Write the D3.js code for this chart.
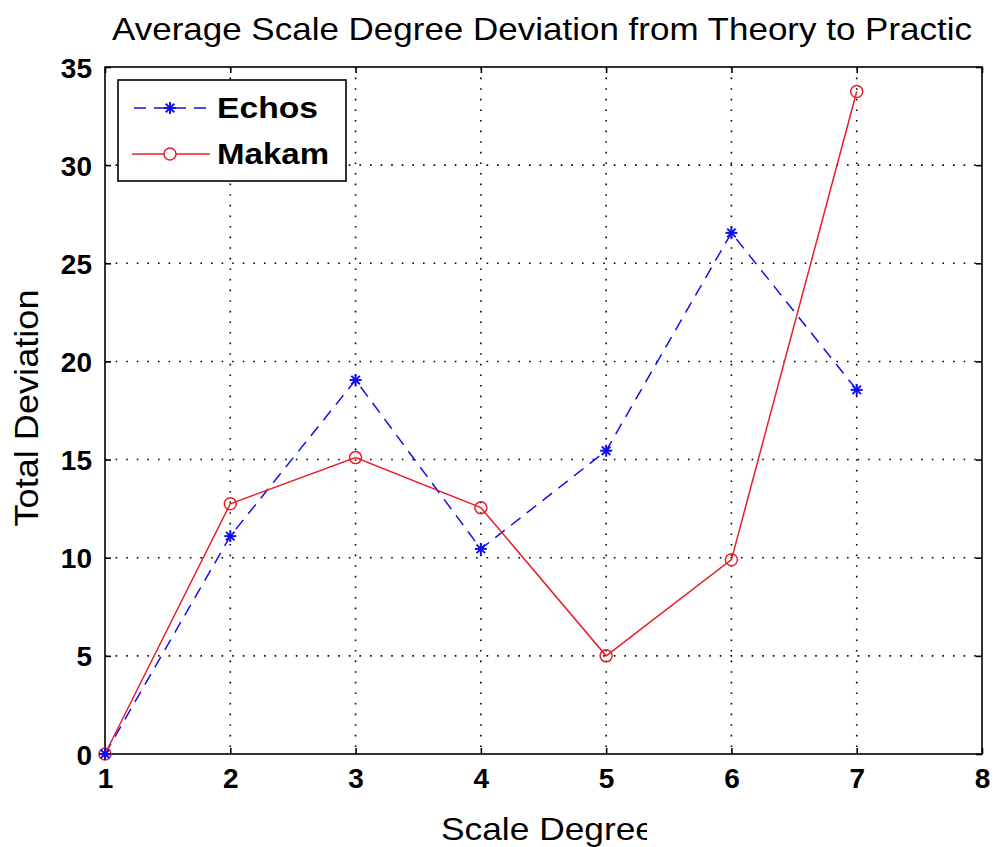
<!DOCTYPE html>
<html>
<head>
<meta charset="utf-8">
<script src="https://cdn.jsdelivr.net/npm/d3@7"></script>
<style>
  html, body { margin: 0; padding: 0; background: #fff; }
  svg { display: block; }
</style>
</head>
<body>
<svg id="chart" width="994" height="847"></svg>
<script>
// Scale degrees and per-series total deviation
const degrees = [1, 2, 3, 4, 5, 6, 7];
const echos = [0, 11.1, 19.05, 10.45, 15.45, 26.55, 18.55];
const makam = [0, 12.75, 15.1, 12.55, 5.0, 9.9, 33.75];
const xTicks = [1, 2, 3, 4, 5, 6, 7, 8];
const yTicks = [0, 5, 10, 15, 20, 25, 30, 35];
const seriesNames = ["Echos", "Makam"];

(function () {
  const svg = d3.select("#chart");
  const pLeft = 105, pRight = 982, pTop = 67, pBottom = 754;

  const x = d3.scaleLinear().domain([1, 8]).range([pLeft, pRight]);
  const y = d3.scaleLinear().domain([0, 35]).range([pBottom, pTop]);

  const font = "'Liberation Sans', Arial, Helvetica, sans-serif";

  // Dotted grid
  const grid = svg.append("g");
  grid.selectAll("line.gx").data(xTicks.slice(1, -1)).join("line")
    .attr("class", "gx")
    .attr("x1", d => x(d)).attr("x2", d => x(d))
    .attr("y1", pTop).attr("y2", pBottom)
    .attr("stroke", "#000").attr("stroke-width", 1.6)
    .attr("stroke-dasharray", "1.6,9");
  grid.selectAll("line.gy").data(yTicks.slice(1, -1)).join("line")
    .attr("class", "gy")
    .attr("y1", d => y(d)).attr("y2", d => y(d))
    .attr("x1", pLeft).attr("x2", pRight)
    .attr("stroke", "#000").attr("stroke-width", 1.6)
    .attr("stroke-dasharray", "1.6,9");

  // Axes with inward ticks on all four sides
  const tickLen = 6;
  const axB = svg.append("g").attr("transform", `translate(0,${pBottom})`)
    .call(d3.axisBottom(x).tickValues(xTicks).tickSize(-tickLen).tickPadding(14).tickFormat(d3.format("d")));
  const axT = svg.append("g").attr("transform", `translate(0,${pTop})`)
    .call(d3.axisTop(x).tickValues(xTicks).tickSize(-tickLen).tickFormat(""));
  const axL = svg.append("g").attr("transform", `translate(${pLeft},0)`)
    .call(d3.axisLeft(y).tickValues(yTicks).tickSize(-tickLen).tickPadding(13).tickFormat(d3.format("d")));
  const axR = svg.append("g").attr("transform", `translate(${pRight},0)`)
    .call(d3.axisRight(y).tickValues(yTicks).tickSize(-tickLen).tickFormat(""));
  [axB, axT, axL, axR].forEach(a => {
    a.select(".domain").remove();
    a.selectAll(".tick line").attr("stroke", "#000").attr("stroke-width", 1.6);
    a.selectAll(".tick text").attr("fill", "#000")
      .style("font-family", font).style("font-size", "28px").style("font-weight", "bold");
  });
  axB.selectAll(".tick text").attr("dy", "0.72em");
  axL.selectAll(".tick text").attr("dy", "0.36em");

  // Frame
  svg.append("rect").attr("x", pLeft).attr("y", pTop)
    .attr("width", pRight - pLeft).attr("height", pBottom - pTop)
    .attr("fill", "none").attr("stroke", "#000").attr("stroke-width", 1.6);

  const line = d3.line().x((d, i) => x(degrees[i])).y(d => y(d));

  const blue = "#1010ee", red = "#e8202a";

  function star(g, cx, cy, r, color) {
    const s = g.append("g").attr("transform", `translate(${cx},${cy})`);
    [0, 45, 90, 135].forEach(a => {
      const rad = a * Math.PI / 180;
      s.append("line")
        .attr("x1", -r * Math.cos(rad)).attr("y1", -r * Math.sin(rad))
        .attr("x2", r * Math.cos(rad)).attr("y2", r * Math.sin(rad))
        .attr("stroke", color).attr("stroke-width", 2);
    });
  }

  // Echos: dashed blue line
  svg.append("path").datum(echos).attr("d", line)
    .attr("fill", "none").attr("stroke", blue).attr("stroke-width", 1.5)
    .attr("stroke-dasharray", "12,8");

  // Makam: solid red line
  svg.append("path").datum(makam).attr("d", line)
    .attr("fill", "none").attr("stroke", red).attr("stroke-width", 1.5);

  const markers = svg.append("g");
  makam.forEach((v, i) => {
    markers.append("circle").attr("cx", x(degrees[i])).attr("cy", y(v)).attr("r", 6)
      .attr("fill", "none").attr("stroke", red).attr("stroke-width", 1.5);
  });
  echos.forEach((v, i) => star(markers, x(degrees[i]), y(v), 6, blue));

  // Legend
  const lg = svg.append("g");
  lg.append("rect").attr("x", 118).attr("y", 80).attr("width", 228).attr("height", 101)
    .attr("fill", "#fff").attr("stroke", "#000").attr("stroke-width", 1.6);
  const legendRows = [
    { name: seriesNames[0], color: blue, dash: "12,8", marker: "star", cy: 108, w: 101 },
    { name: seriesNames[1], color: red, dash: null, marker: "circle", cy: 154, w: 112 }
  ];
  legendRows.forEach(r => {
    const l = lg.append("line").attr("x1", 132).attr("x2", 210)
      .attr("y1", r.cy).attr("y2", r.cy)
      .attr("stroke", r.color).attr("stroke-width", 1.5);
    if (r.dash) l.attr("stroke-dasharray", r.dash).attr("stroke-dashoffset", -2);
    if (r.marker === "star") star(lg, 170, r.cy, 6, r.color);
    else lg.append("circle").attr("cx", 170).attr("cy", r.cy).attr("r", 6)
      .attr("fill", "#fff").attr("stroke", r.color).attr("stroke-width", 1.5);
    lg.append("text").attr("x", 217).attr("y", r.cy).attr("dy", "0.36em")
      .attr("textLength", r.w).attr("lengthAdjust", "spacingAndGlyphs")
      .style("font-family", font).style("font-size", "29px").style("font-weight", "bold")
      .attr("fill", "#000").text(r.name);
  });

  // Title
  svg.append("text").attr("x", 112).attr("y", 40)
    .attr("textLength", 860).attr("lengthAdjust", "spacingAndGlyphs")
    .style("font-family", font).style("font-size", "32px")
    .attr("fill", "#000").text("Average Scale Degree Deviation from Theory to Practic");

  // Axis labels
  svg.append("defs").append("clipPath").attr("id", "xlabclip")
    .append("rect").attr("x", 0).attr("y", 800).attr("width", 647).attr("height", 47);
  svg.append("text").attr("x", 441).attr("y", 840)
    .attr("clip-path", "url(#xlabclip)")
    .attr("textLength", 214).attr("lengthAdjust", "spacingAndGlyphs")
    .style("font-family", font).style("font-size", "32px")
    .attr("fill", "#000").text("Scale Degree");
  svg.append("text")
    .attr("transform", `translate(38,408) rotate(-90)`)
    .attr("text-anchor", "middle")
    .attr("textLength", 237).attr("lengthAdjust", "spacingAndGlyphs")
    .style("font-family", font).style("font-size", "33px")
    .attr("fill", "#000").text("Total Deviation");
})();
</script>
</body>
</html>
